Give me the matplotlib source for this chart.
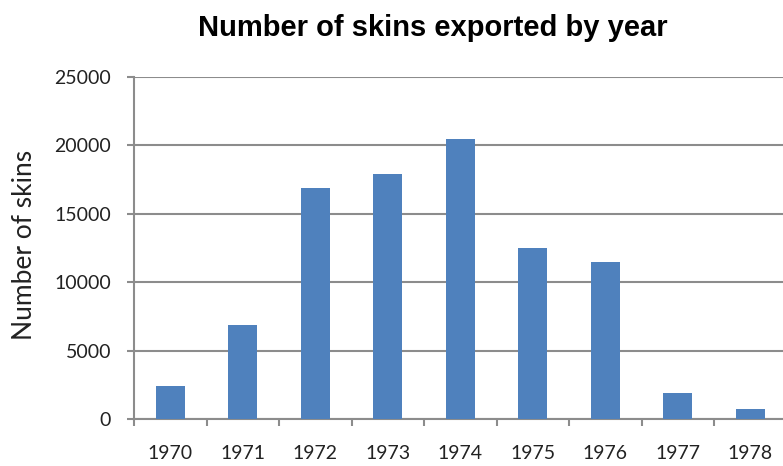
import matplotlib
matplotlib.use('Agg')
import matplotlib.pyplot as plt

years = ['1970', '1971', '1972', '1973', '1974', '1975', '1976', '1977', '1978']
skins = [2400, 6900, 16900, 17900, 20500, 12500, 11500, 1900, 750]

bar_color = '#4F81BD'
grid_color = '#8C8C8C'

fig = plt.figure(figsize=(7.83, 4.66), dpi=100)
ax = fig.add_axes([134 / 783, 1 - 419 / 466, (786.5 - 134) / 783, (419 - 77) / 466])

x = list(range(len(years)))
ax.bar(x, skins, width=0.4, color=bar_color, zorder=3)

ax.set_xlim(-0.5, len(years) - 0.5)
ax.set_ylim(0, 25000)
ax.set_yticks(range(0, 25001, 5000))
ax.set_yticklabels([str(v) for v in range(0, 25001, 5000)], family='Lato', fontsize=14, color='#222222')
ax.set_xticks(x)
ax.set_xticklabels(years, family='Lato', fontsize=14, color='#222222')
ax.set_xticks([i - 0.5 for i in range(len(years) + 1)], minor=True)

ax.yaxis.grid(True, color=grid_color, linewidth=1.5, zorder=0)
ax.tick_params(axis='y', which='major', direction='out', length=5, width=1.5, color=grid_color, pad=11.5)
ax.tick_params(axis='x', which='major', length=0, pad=19)
ax.tick_params(axis='x', which='minor', direction='out', length=5, width=1.5, color=grid_color)

for s in ['top', 'right']:
    ax.spines[s].set_visible(False)
for s in ['left', 'bottom']:
    ax.spines[s].set_color(grid_color)
    ax.spines[s].set_linewidth(1.5)

ax.set_ylabel('Number of skins', family='Lato', fontsize=19, color='#222222')
ax.yaxis.set_label_coords((37 - 134) / (786.5 - 134), 0.509)

fig.text(432.5 / 783, 1 - 36 / 466, 'Number of skins exported by year',
         family='Liberation Sans', fontweight='bold', fontsize=21,
         ha='center', va='baseline')

fig.savefig('out.png', dpi=100)
